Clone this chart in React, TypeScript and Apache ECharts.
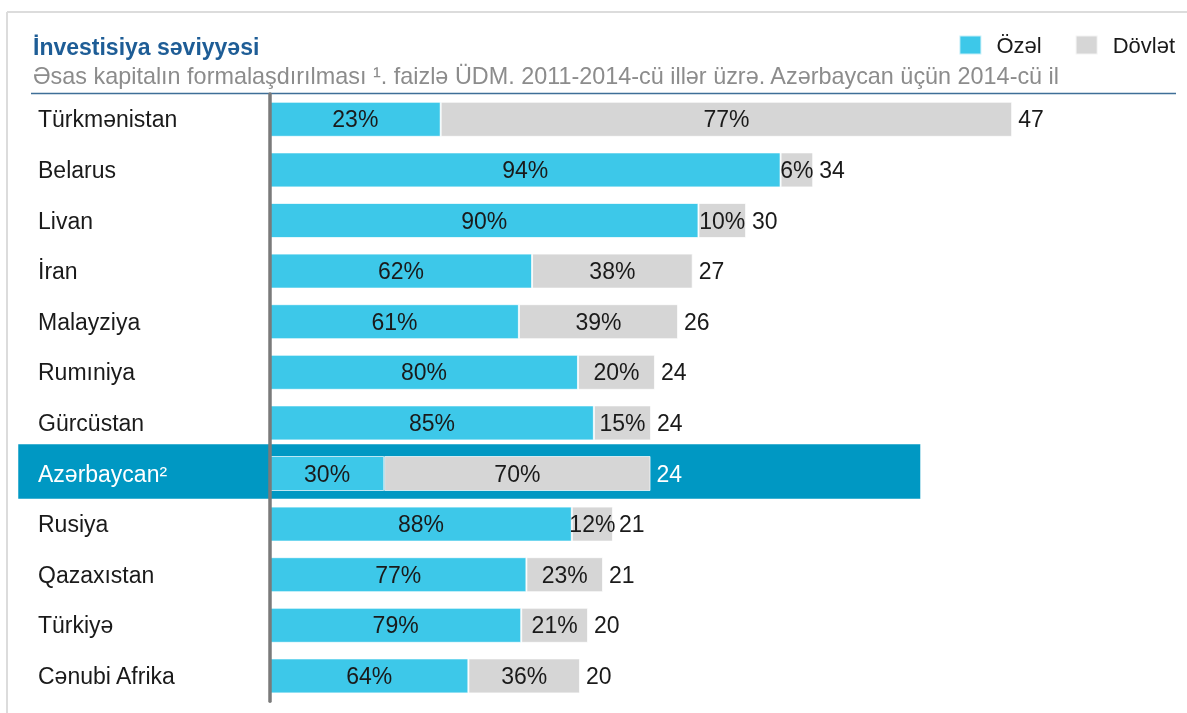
import React, { useEffect, useRef } from 'react';
import * as echarts from 'echarts';

const categories = ['Türkmənistan', 'Belarus', 'Livan', 'İran', 'Malayziya', 'Rumıniya', 'Gürcüstan', 'Azərbaycan²', 'Rusiya', 'Qazaxıstan', 'Türkiyə', 'Cənubi Afrika'];
const privateShare = [23, 94, 90, 62, 61, 80, 85, 30, 88, 77, 79, 64];
const totalLabels = [47, 34, 30, 27, 26, 24, 24, 24, 21, 21, 20, 20];
const totalLengths = [47, 34.4, 30.15, 26.77, 25.84, 24.38, 24.13, 24.1, 21.72, 21.09, 20.14, 19.63];
const highlighted = 'Azərbaycan²';
const seriesNames = ['Özəl', 'Dövlət'];
const titleText = 'İnvestisiya səviyyəsi';
const subtitleText = 'Əsas kapitalın formalaşdırılması ¹. faizlə ÜDM. 2011-2014-cü illər üzrə. Azərbaycan üçün 2014-cü il';

const FONT = '"Liberation Sans", Arial, sans-serif';
const CYAN = '#3dc8e9';
const GREY = '#d6d6d6';
const BAND = '#0098c3';
const TEXT = '#1a1a1a';

export default function App() {
  const ref = useRef<HTMLDivElement>(null);
  useEffect(() => {
    const chart = echarts.init(ref.current!, undefined, { renderer: 'svg' });
    const hl = categories.indexOf(highlighted);
    const privateVals = totalLengths.map((t, i) => (t * privateShare[i]) / 100);
    const publicVals = totalLengths.map((t, i) => (t * (100 - privateShare[i])) / 100);

    chart.setOption({
      animation: false,
      textStyle: { fontFamily: FONT },
      grid: { left: 270, top: 94, width: 789.5, height: 607.2 },
      legend: {
        data: seriesNames,
        right: 7,
        top: 29,
        icon: 'rect',
        itemWidth: 22,
        itemHeight: 19,
        itemGap: 33,
        selectedMode: false,
        textStyle: { fontSize: 22, color: TEXT, fontFamily: FONT, padding: [0, 0, 0, 10] },
      },
      xAxis: { type: 'value', min: 0, max: 50, show: false },
      yAxis: {
        type: 'category',
        data: categories,
        inverse: true,
        z: 4,
        axisTick: { show: false },
        axisLine: { lineStyle: { color: '#7a7a7a', width: 3.5 } },
        axisLabel: {
          align: 'left',
          margin: 232,
          fontSize: 23,
          color: TEXT,
          fontFamily: FONT,
          formatter: (v: string) => (v === highlighted ? '{hl|' + v + '}' : v),
          rich: { hl: { color: '#ffffff', fontSize: 23, fontFamily: FONT } },
        },
      },
      graphic: [
        { type: 'line', shape: { x1: 7, y1: 12, x2: 1187, y2: 12 }, style: { stroke: '#dcdcdc', lineWidth: 2 } },
        { type: 'line', shape: { x1: 7, y1: 12, x2: 7, y2: 713 }, style: { stroke: '#dcdcdc', lineWidth: 2 } },
        { type: 'line', shape: { x1: 31, y1: 93.5, x2: 1176, y2: 93.5 }, style: { stroke: '#3f6f98', lineWidth: 1.5 } },
        { type: 'text', x: 33, y: 47, style: { text: titleText, font: 'bold 23px ' + FONT, fill: '#1e5d96', verticalAlign: 'middle' } },
        { type: 'text', x: 33, y: 75.5, style: { text: subtitleText, font: '23.4px ' + FONT, fill: '#8c8c8c', verticalAlign: 'middle' } },
      ],
      series: [
        {
          type: 'custom',
          name: 'band',
          z: 1,
          clip: false,
          silent: true,
          data: [[0, hl]],
          renderItem: (params: any, api: any) => {
            const c = api.coord([0, api.value(1)]);
            const right = api.coord([41.2, api.value(1)]);
            const x0 = params.coordSys.x - 252;
            return {
              type: 'rect',
              shape: { x: x0, y: c[1] - 29.5, width: right[0] - x0, height: 55 },
              style: { fill: BAND, stroke: 'rgba(255,255,255,0.5)', lineWidth: 1 },
            };
          },
        },
        {
          type: 'bar',
          name: seriesNames[0],
          stack: 'share',
          barWidth: 35,
          z: 2,
          data: privateVals,
          itemStyle: { color: CYAN, borderColor: 'rgba(255,255,255,0.7)', borderWidth: 1 },
          label: {
            show: true,
            position: 'inside',
            fontSize: 23,
            color: TEXT,
            fontFamily: FONT,
            formatter: (p: any) => privateShare[p.dataIndex] + '%',
          },
        },
        {
          type: 'bar',
          name: seriesNames[1],
          stack: 'share',
          barWidth: 35,
          z: 2,
          data: publicVals,
          itemStyle: { color: GREY, borderColor: 'rgba(255,255,255,0.7)', borderWidth: 1 },
          label: {
            show: true,
            position: 'inside',
            fontSize: 23,
            color: TEXT,
            fontFamily: FONT,
            formatter: (p: any) => 100 - privateShare[p.dataIndex] + '%',
          },
        },
        {
          type: 'bar',
          name: 'total',
          barWidth: 35,
          barGap: '-100%',
          z: 1,
          silent: true,
          itemStyle: { color: 'rgba(0,0,0,0)' },
          data: totalLengths.map((v, i) => ({
            value: v,
            label: i === hl ? { color: '#ffffff' } : undefined,
          })),
          label: {
            show: true,
            position: 'right',
            distance: 6,
            fontSize: 23,
            color: TEXT,
            fontFamily: FONT,
            formatter: (p: any) => String(totalLabels[p.dataIndex]),
          },
        },
      ],
    });
    return () => chart.dispose();
  }, []);
  return <div ref={ref} style={{ position: 'fixed', left: 0, top: 0, width: 1187, height: 713 }} />;
}
